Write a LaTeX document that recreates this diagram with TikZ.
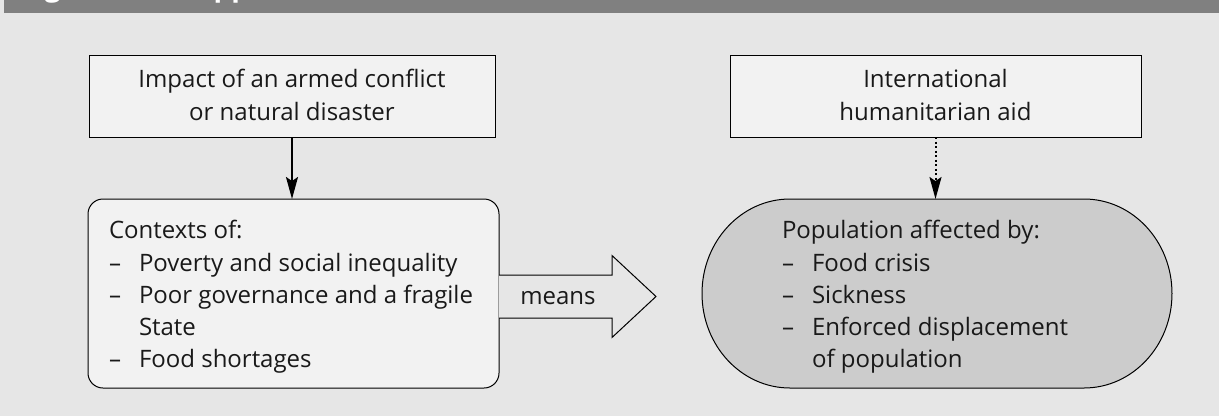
\documentclass[tikz,border=0pt]{standalone}
\usepackage{fontspec}
\setmainfont{Open Sans}
\usetikzlibrary{arrows.meta}
\definecolor{bg}{gray}{0.902}
\definecolor{band}{gray}{0.502}
\definecolor{boxfill}{gray}{0.949}
\definecolor{popfill}{gray}{0.80}
\definecolor{ink}{gray}{0.1}
\begin{document}
\begin{tikzpicture}[x=1pt,y=-1pt,
  frame/.style={draw=black, line width=1pt, fill=boxfill, inner sep=0pt, outer sep=0pt},
  txt/.style={inner sep=0pt, outer sep=0pt, text=ink, font=\fontsize{24}{30}\selectfont},
  flow/.style={line width=2pt, -{Stealth[length=22pt,width=12pt,inset=4pt]}},
  aidflow/.style={line width=2pt, dash pattern=on 2pt off 2.5pt, -{Stealth[length=22pt,width=12pt,inset=4pt]}},
]
\useasboundingbox (0,0) rectangle (1219,416);
\fill[bg] (0,0) rectangle (1219,416);
% heading band
\fill[band] (4,0) rectangle (1219,13);
\begin{scope}
  \clip (4,0) rectangle (1219,13);
  \node[txt, anchor=base west, text=white, font=\fontsize{28}{28}\selectfont\bfseries] (title) at (21,-4) {Figure 1 The approach};
\end{scope}

% causes
\node[frame, minimum width=406pt, minimum height=82pt] (impact) at (292,96) {};
\node[txt, anchor=base] (impact1) at (292,87) {Impact of an armed conflict};
\node[txt, anchor=base] (impact2) at (292,120) {or natural disaster};

\node[frame, minimum width=411pt, minimum height=82pt] (aid) at (935.5,96) {};
\node[txt, anchor=base] (aid1) at (935.5,87) {International};
\node[txt, anchor=base] (aid2) at (935.5,120) {humanitarian aid};

% contexts box
\node[frame, rounded corners=15pt, minimum width=411pt, minimum height=189pt] (ctx) at (293.5,293.5) {};
\node[txt, anchor=base west] (ctx0) at (109,238) {Contexts of:};
\node[txt, anchor=base west] (ctxd1) at (109,271) {–};
\node[txt, anchor=base west] (ctx1) at (139,271) {Poverty and social inequality};
\node[txt, anchor=base west] (ctxd2) at (109,303) {–};
\node[txt, anchor=base west] (ctx2) at (139,303) {Poor governance and a fragile};
\node[txt, anchor=base west] (ctx3) at (139,335) {State};
\node[txt, anchor=base west] (ctxd4) at (109,367) {–};
\node[txt, anchor=base west] (ctx4) at (139,367) {Food shortages};

% affected population
\node[inner sep=0pt, outer sep=0pt, minimum width=470pt, minimum height=189pt] (pop) at (937,293.5) {};
\draw[line width=1pt, fill=popfill] (790,199) -- (1084,199)
  arc[start angle=-90, end angle=90, x radius=88, y radius=94.5] -- (790,388)
  arc[start angle=90, end angle=270, x radius=88, y radius=94.5] -- cycle;
\node[txt, anchor=base west] (pop0) at (782,238) {Population affected by:};
\node[txt, anchor=base west] (popd1) at (782,271) {–};
\node[txt, anchor=base west] (pop1) at (812,271) {Food crisis};
\node[txt, anchor=base west] (popd2) at (782,303) {–};
\node[txt, anchor=base west] (pop2) at (812,303) {Sickness};
\node[txt, anchor=base west] (popd3) at (782,335) {–};
\node[txt, anchor=base west] (pop3) at (812,335) {Enforced displacement};
\node[txt, anchor=base west] (pop4) at (812,367) {of population};

% "means" block arrow
\draw[line width=1pt, fill=bg] (ctx.east |- 0,275) -- (612,275) -- (612,255.5) -- (656,296.5)
  -- (612,337.5) -- (612,318) -- (ctx.east |- 0,318);
\node[txt, anchor=base] (means) at (558,304) {means};

% connectors
\draw[flow] (impact.south) -- (impact.south |- ctx.north);
\draw[aidflow] (aid.south) -- (aid.south |- pop.north);
\end{tikzpicture}
\end{document}
